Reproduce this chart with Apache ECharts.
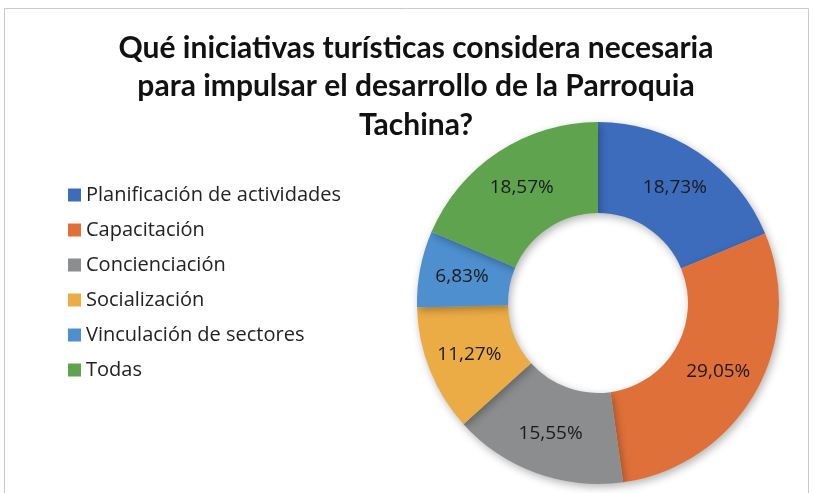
<!DOCTYPE html>
<html>
<head>
<meta charset="utf-8">
<script src="https://cdn.jsdelivr.net/npm/echarts@6/dist/echarts.min.js"></script>
<style>
  html, body { margin: 0; padding: 0; background: #fff; }
  #chart { width: 814px; height: 493px; }
</style>
</head>
<body>
<div id="chart"></div>
<script>
var categories = [
  "Planificación de actividades",
  "Capacitación",
  "Concienciación",
  "Socialización",
  "Vinculación de sectores",
  "Todas"
];
var percentages = [18.73, 29.05, 15.55, 11.27, 6.83, 18.57];
var sliceColors = ["#3d6cbd", "#e0703a", "#8c8d8e", "#ecac45", "#4e8fd0", "#5fa34e"];

var myChart = echarts.init(document.getElementById("chart"));

var pieData = categories.map(function (name, i) {
  return { name: name, value: percentages[i], itemStyle: { color: sliceColors[i] } };
});

var option = {
  animation: false,
  backgroundColor: "#fff",
  title: {
    text: "Qué iniciativas turísticas considera necesaria\npara impulsar el desarrollo de la Parroquia\nTachina?",
    left: 411,
    textAlign: "center",
    top: 24,
    textStyle: {
      fontFamily: "Lato",
      fontWeight: "bold",
      fontSize: 30,
      lineHeight: 38.5,
      color: "#111"
    }
  },
  legend: {
    orient: "vertical",
    left: 63,
    top: 179,
    icon: "rect",
    itemWidth: 13,
    itemHeight: 13,
    itemGap: 13,
    textStyle: {
      fontFamily: "Open Sans",
      fontSize: 20,
      lineHeight: 22,
      color: "#222"
    },
    data: categories
  },
  graphic: [{
    type: "rect",
    shape: { x: 4.5, y: 8.5, width: 804, height: 520 },
    style: { fill: "none", stroke: "#c8c8c8", lineWidth: 1 },
    silent: true
  }],
  series: [{
    type: "pie",
    center: [598, 303],
    radius: [90, 181],
    startAngle: 90,
    clockwise: true,
    avoidLabelOverlap: false,
    label: {
      show: true,
      position: "inside",
      formatter: function (p) {
        return p.value.toFixed(2).replace(".", ",") + "%";
      },
      fontFamily: "Open Sans",
      fontSize: 19,
      color: "#1a1a1a"
    },
    labelLine: { show: false },
    itemStyle: {
      shadowBlur: 8,
      shadowOffsetX: 2,
      shadowOffsetY: 3,
      shadowColor: "rgba(0,0,0,0.3)"
    },
    emphasis: { disabled: true },
    data: pieData
  }]
};

myChart.setOption(option);
window.addEventListener("resize", function () {
  myChart.resize();
});
</script>
</body>
</html>
